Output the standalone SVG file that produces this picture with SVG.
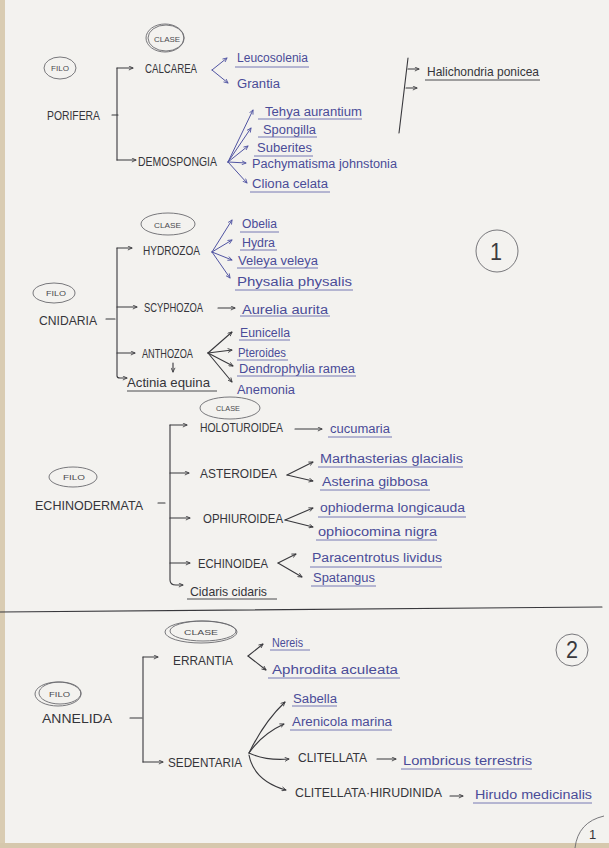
<svg xmlns="http://www.w3.org/2000/svg" width="609" height="848" viewBox="0 0 609 848">
<style>
text{font-family:"Liberation Sans","DejaVu Sans",sans-serif;}
.k{fill:#35353a;font-size:13px;}
.b{fill:#4a4c98;font-size:12.5px;}
.s{fill:#4a4a4e;font-size:7.5px;}
.n{fill:#3a3a3e;font-size:24px;}
.ln{stroke:#38383c;stroke-width:1.1;fill:none;stroke-linecap:round;}
.bl{stroke:#5054a2;stroke-width:1;fill:none;stroke-linecap:round;}
.ul{stroke:#6a6cad;stroke-width:0.9;fill:none;}
.uk{stroke:#38383c;stroke-width:0.9;fill:none;}
.el{stroke:#6a6a6e;stroke-width:0.9;fill:none;}
.ak{marker-end:url(#mk);}
.ab{marker-end:url(#mb);}
</style>
<defs>
<marker id="mk" viewBox="0 0 6 6" refX="5.5" refY="3" markerWidth="5" markerHeight="5" orient="auto" markerUnits="userSpaceOnUse"><path d="M0.5,0.6 L5.5,3 L0.5,5.4" fill="none" stroke="#38383c" stroke-width="1"/></marker>
<marker id="mb" viewBox="0 0 6 6" refX="5.5" refY="3" markerWidth="5" markerHeight="5" orient="auto" markerUnits="userSpaceOnUse"><path d="M0.5,0.6 L5.5,3 L0.5,5.4" fill="none" stroke="#5054a2" stroke-width="1"/></marker>
</defs>
<rect x="0" y="0" width="609" height="848" fill="#f3f2ef"/>
<rect x="0" y="0" width="5" height="848" fill="#d9ccb2"/>
<rect x="0" y="843" width="609" height="5" fill="#d6c8ad"/>

<!-- PORIFERA -->
<g id="porifera">
<ellipse class="el" cx="60" cy="68" rx="16" ry="11"/>
<text class="s" x="51" y="71" textLength="18" lengthAdjust="spacingAndGlyphs">FILO</text>
<ellipse class="el" cx="165" cy="38" rx="19" ry="14"/>
<ellipse class="el" cx="166" cy="38" rx="18" ry="13"/>
<text class="s" x="154" y="42" textLength="26" lengthAdjust="spacingAndGlyphs">CLASE</text>
<text class="k" x="47" y="120" textLength="53" lengthAdjust="spacingAndGlyphs">PORIFERA</text>
</g>
<g id="calcarea">
<text class="k" x="145" y="73" textLength="52" lengthAdjust="spacingAndGlyphs">CALCAREA</text>
<text class="b" x="237" y="62" textLength="71" lengthAdjust="spacingAndGlyphs">Leucosolenia</text>
<text class="b" x="237" y="88" textLength="43" lengthAdjust="spacingAndGlyphs">Grantia</text>
</g>
<g id="demospongia">
<text class="k" x="138" y="166" textLength="79" lengthAdjust="spacingAndGlyphs">DEMOSPONGIA</text>
<text class="b" x="265" y="116" textLength="97" lengthAdjust="spacingAndGlyphs">Tehya aurantium</text>
<text class="b" x="263" y="134" textLength="53" lengthAdjust="spacingAndGlyphs">Spongilla</text>
<text class="b" x="257" y="152" textLength="55" lengthAdjust="spacingAndGlyphs">Suberites</text>
<text class="b" x="252" y="168" textLength="145" lengthAdjust="spacingAndGlyphs">Pachymatisma johnstonia</text>
<text class="b" x="252" y="188" textLength="76" lengthAdjust="spacingAndGlyphs">Cliona celata</text>
</g>
<g id="halichondria">
<text class="k" x="427" y="76" font-size="12.5" textLength="112" lengthAdjust="spacingAndGlyphs">Halichondria ponicea</text>
</g>

<!-- CNIDARIA -->
<g id="cnidaria">
<ellipse class="el" cx="168" cy="224" rx="27" ry="11"/>
<text class="s" x="154" y="228" textLength="27" lengthAdjust="spacingAndGlyphs">CLASE</text>
<ellipse class="el" cx="54" cy="293" rx="21" ry="10"/>
<text class="s" x="46" y="296" textLength="20" lengthAdjust="spacingAndGlyphs">FILO</text>
<text class="k" x="39" y="325" textLength="58" lengthAdjust="spacingAndGlyphs">CNIDARIA</text>
</g>
<g id="hydrozoa">
<text class="k" x="143" y="255" textLength="57" lengthAdjust="spacingAndGlyphs">HYDROZOA</text>
<text class="b" x="242" y="228" textLength="35" lengthAdjust="spacingAndGlyphs">Obelia</text>
<text class="b" x="242" y="247" textLength="33" lengthAdjust="spacingAndGlyphs">Hydra</text>
<text class="b" x="238" y="265" textLength="80" lengthAdjust="spacingAndGlyphs">Veleya veleya</text>
<text class="b" x="237" y="286" textLength="115" lengthAdjust="spacingAndGlyphs">Physalia physalis</text>
</g>
<g id="scyphozoa">
<text class="k" x="144" y="312" textLength="59" lengthAdjust="spacingAndGlyphs">SCYPHOZOA</text>
<text class="b" x="242" y="314" textLength="86" lengthAdjust="spacingAndGlyphs">Aurelia aurita</text>
</g>
<g id="anthozoa">
<text class="k" x="142" y="358" textLength="51" lengthAdjust="spacingAndGlyphs">ANTHOZOA</text>
<text class="b" x="240" y="337" textLength="50" lengthAdjust="spacingAndGlyphs">Eunicella</text>
<text class="b" x="238" y="357" textLength="48" lengthAdjust="spacingAndGlyphs">Pteroides</text>
<text class="b" x="239" y="373" textLength="116" lengthAdjust="spacingAndGlyphs">Dendrophylia ramea</text>
<text class="b" x="237" y="394" textLength="58" lengthAdjust="spacingAndGlyphs">Anemonia</text>
<text class="k" x="127" y="387" font-size="12.5" textLength="83" lengthAdjust="spacingAndGlyphs">Actinia equina</text>
</g>
<g id="num1">
<circle class="el" cx="497" cy="251" r="21" stroke="#444"/>
<text class="n" x="490" y="260" textLength="12" lengthAdjust="spacingAndGlyphs">1</text>
</g>

<!-- ECHINODERMATA -->
<g id="echinodermata">
<ellipse class="el" cx="230" cy="408" rx="30" ry="11" stroke="#8a8a90"/>
<text class="s" x="216" y="411" textLength="24" lengthAdjust="spacingAndGlyphs" fill="#77777c">CLASE</text>
<ellipse class="el" cx="73" cy="477" rx="24" ry="10"/>
<text class="s" x="63" y="480" textLength="22" lengthAdjust="spacingAndGlyphs">FILO</text>
<text class="k" x="35" y="510" textLength="108" lengthAdjust="spacingAndGlyphs">ECHINODERMATA</text>
</g>
<g id="holoturoidea">
<text class="k" x="200" y="432" textLength="83" lengthAdjust="spacingAndGlyphs">HOLOTUROIDEA</text>
<text class="b" x="330" y="433" textLength="60" lengthAdjust="spacingAndGlyphs">cucumaria</text>
</g>
<g id="asteroidea">
<text class="k" x="200" y="478" textLength="77" lengthAdjust="spacingAndGlyphs">ASTEROIDEA</text>
<text class="b" x="320" y="463" textLength="143" lengthAdjust="spacingAndGlyphs">Marthasterias glacialis</text>
<text class="b" x="322" y="486" textLength="106" lengthAdjust="spacingAndGlyphs">Asterina gibbosa</text>
</g>
<g id="ophiuroidea">
<text class="k" x="203" y="523" textLength="80" lengthAdjust="spacingAndGlyphs">OPHIUROIDEA</text>
<text class="b" x="320" y="512" textLength="145" lengthAdjust="spacingAndGlyphs">ophioderma longicauda</text>
<text class="b" x="318" y="536" textLength="119" lengthAdjust="spacingAndGlyphs">ophiocomina nigra</text>
</g>
<g id="echinoidea">
<text class="k" x="198" y="568" textLength="70" lengthAdjust="spacingAndGlyphs">ECHINOIDEA</text>
<text class="b" x="312" y="562" textLength="130" lengthAdjust="spacingAndGlyphs">Paracentrotus lividus</text>
<text class="b" x="313" y="582" textLength="62" lengthAdjust="spacingAndGlyphs">Spatangus</text>
</g>
<g id="cidaris">
<text class="k" x="190" y="596" font-size="12.5" textLength="77" lengthAdjust="spacingAndGlyphs">Cidaris cidaris</text>
</g>

<!-- ANNELIDA -->
<g id="annelida">
<ellipse class="el" cx="201" cy="632" rx="36" ry="11"/>
<ellipse class="el" cx="203" cy="631" rx="33" ry="10"/>
<text class="s" x="184" y="635" textLength="34" lengthAdjust="spacingAndGlyphs">CLASE</text>
<ellipse class="el" cx="58" cy="694" rx="23" ry="12"/>
<ellipse class="el" cx="60" cy="693" rx="21" ry="11"/>
<text class="s" x="49" y="697" textLength="21" lengthAdjust="spacingAndGlyphs">FILO</text>
<text class="k" x="42" y="723" textLength="70" lengthAdjust="spacingAndGlyphs">ANNELIDA</text>
</g>
<g id="errantia">
<text class="k" x="173" y="665" textLength="60" lengthAdjust="spacingAndGlyphs">ERRANTIA</text>
<text class="b" x="272" y="647" textLength="31" lengthAdjust="spacingAndGlyphs">Nereis</text>
<text class="b" x="272" y="674" textLength="126" lengthAdjust="spacingAndGlyphs">Aphrodita aculeata</text>
</g>
<g id="sedentaria">
<text class="k" x="168" y="767" textLength="74" lengthAdjust="spacingAndGlyphs">SEDENTARIA</text>
<text class="b" x="293" y="703" textLength="44" lengthAdjust="spacingAndGlyphs">Sabella</text>
<text class="b" x="292" y="726" textLength="100" lengthAdjust="spacingAndGlyphs">Arenicola marina</text>
</g>
<g id="clitellata">
<text class="k" x="298" y="762" font-size="12" textLength="69" lengthAdjust="spacingAndGlyphs">CLITELLATA</text>
<text class="b" x="403" y="765" textLength="129" lengthAdjust="spacingAndGlyphs">Lombricus terrestris</text>
</g>
<g id="hirudinida">
<text class="k" x="295" y="797" font-size="12" textLength="147" lengthAdjust="spacingAndGlyphs">CLITELLATA·HIRUDINIDA</text>
<text class="b" x="475" y="799" textLength="117" lengthAdjust="spacingAndGlyphs">Hirudo medicinalis</text>
</g>
<g id="num2">
<circle class="el" cx="572" cy="650" r="16" stroke="#444"/>
<text class="n" x="566" y="658" font-size="20" textLength="12" lengthAdjust="spacingAndGlyphs">2</text>
</g>
<g id="page">
<path class="el" d="M575,848 Q578,822 604,816" stroke="#444"/>
<text class="k" x="589" y="839" font-size="14">1</text>
</g>

<!-- CONNECTORS -->
<g id="connectors">
<path class="ln" d="M112,115 H118"/>
<path class="ln" d="M117,68 V160"/>
<path class="ln ak" d="M117,68 H133"/>
<path class="ln ak" d="M117,160 H136"/>
<path class="bl ab" d="M212,70 L227,58"/>
<path class="bl ab" d="M212,70 L228,83"/>
<path class="bl ab" d="M228,162 L253,110"/>
<path class="bl ab" d="M228,162 L251,128"/>
<path class="bl ab" d="M228,162 L248,146"/>
<path class="bl ab" d="M228,162 L246,163"/>
<path class="bl ab" d="M228,162 L247,183"/>
<path class="ln" d="M408,58 L399,133"/>
<path class="ln ak" d="M408,69 H419"/>
<path class="ln ak" d="M406,88 H417"/>
<path class="ln" d="M106,319 H115"/>
<path class="ln" d="M117,248 V376 Q117,378 120,378 H127" marker-end="url(#mk)"/>
<path class="ln ak" d="M117,248 H132"/>
<path class="ln ak" d="M117,307 H137"/>
<path class="ln ak" d="M117,353 H135"/>
<path class="ln ak" d="M173,363 V372"/>
<path class="bl ab" d="M212,252 L232,220"/>
<path class="bl ab" d="M212,252 L232,240"/>
<path class="bl ab" d="M212,252 L232,260"/>
<path class="bl ab" d="M212,252 L230,278"/>
<path class="ln ak" d="M218,308 H235"/>
<path class="ln ak" d="M208,353 L232,332"/>
<path class="ln ak" d="M208,353 L232,350"/>
<path class="ln ak" d="M208,353 L233,366"/>
<path class="ln ak" d="M208,353 L232,382"/>
<path class="ln" d="M158,503 H165"/>
<path class="ln" d="M170,425 V580 Q170,585 176,585 H183" marker-end="url(#mk)"/>
<path class="ln ak" d="M170,425 H187"/>
<path class="ln ak" d="M170,473 H189"/>
<path class="ln ak" d="M170,518 H190"/>
<path class="ln ak" d="M170,563 H190"/>
<path class="ln ak" d="M295,429 H322"/>
<path class="ln ak" d="M287,475 L313,462"/>
<path class="ln ak" d="M287,475 L313,481"/>
<path class="ln ak" d="M285,520 L313,508"/>
<path class="ln ak" d="M285,520 L313,527"/>
<path class="ln ak" d="M278,563 L296,554"/>
<path class="ln ak" d="M278,563 L302,577"/>
<path class="ln" d="M130,718 H142"/>
<path class="ln" d="M143,657 V762"/>
<path class="ln ak" d="M143,657 H158"/>
<path class="ln ak" d="M143,762 H163"/>
<path class="ln ak" d="M248,656 L263,644"/>
<path class="ln ak" d="M248,656 L266,670"/>
<path class="ln ak" d="M249,753 Q264,722 285,702"/>
<path class="ln ak" d="M249,753 Q262,734 284,724"/>
<path class="ln ak" d="M249,753 Q266,761 289,759"/>
<path class="ln ak" d="M249,755 Q254,781 286,790"/>
<path class="ln ak" d="M377,759 H396"/>
<path class="ln ak" d="M450,796 H463"/>
<path class="ln" d="M0,612 L602,607" stroke="#555"/>
<path class="ul" d="M235,67 H309 M258,119 H362 M258,137 H317 M254,156 H313 M250,192 H330"/>
<path class="uk" d="M425,80 H540"/>
<path class="ul" d="M240,232 H279 M240,250 H277 M237,268 H318 M235,290 H353 M240,316 H330 M239,340 H290 M237,360 H288 M237,376 H356"/>
<path class="uk" d="M127,391 H217"/>
<path class="ul" d="M328,437 H392 M318,467 H463 M320,490 H430 M318,517 H466 M316,540 H437 M310,567 H442 M311,586 H376"/>
<path class="uk" d="M187,599 H277"/>
<path class="ul" d="M270,650 H310 M268,678 H400 M292,706 H337 M290,730 H392 M401,769 H532 M473,803 H592"/>
</g>
</svg>
